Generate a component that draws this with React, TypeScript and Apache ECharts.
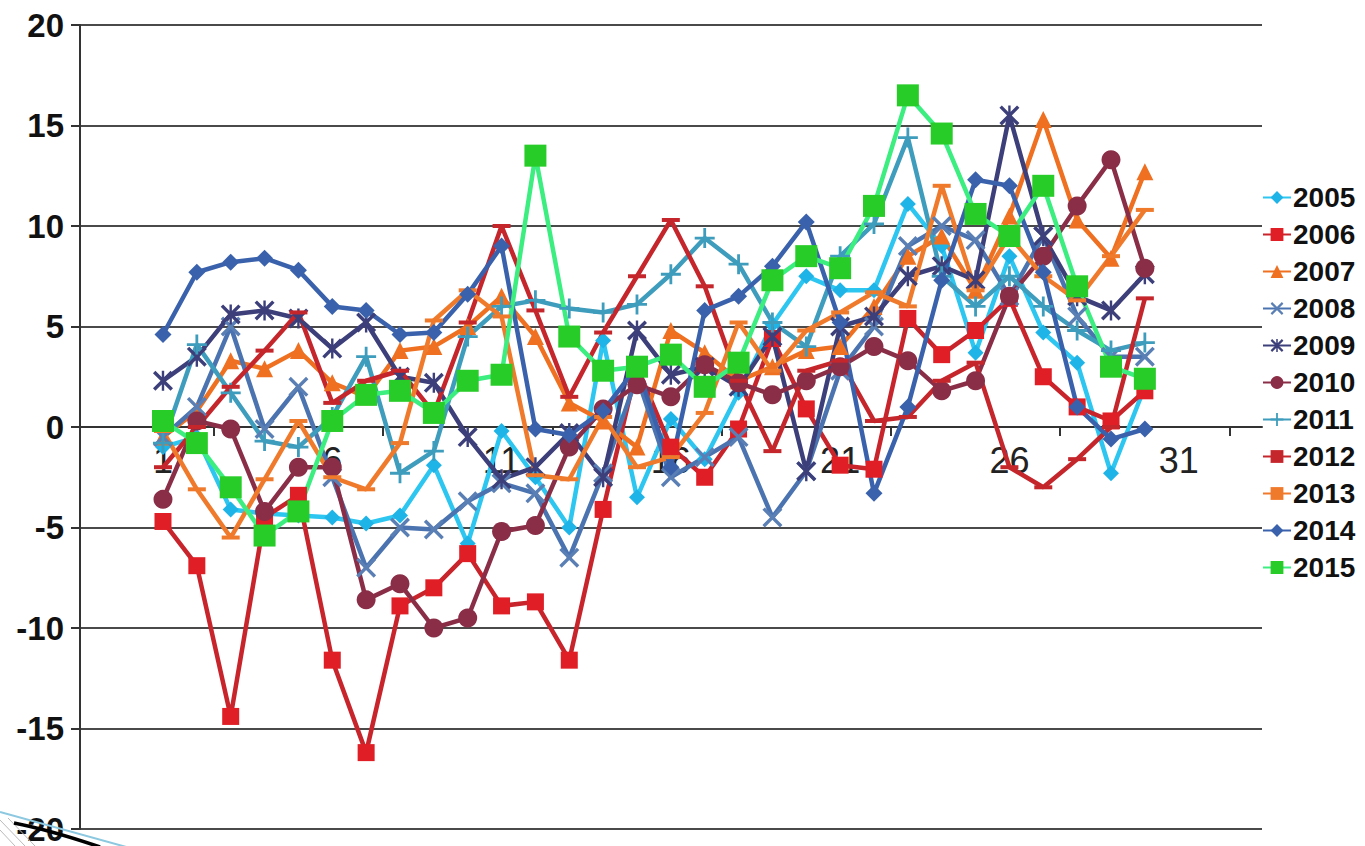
import React, { useEffect, useRef } from "react";
import * as echarts from "echarts";

const days: number[] = [1,2,3,4,5,6,7,8,9,10,11,12,13,14,15,16,17,18,19,20,21,22,23,24,25,26,27,28,29,30];
const xLabelValues: number[] = [1, 6, 11, 16, 21, 26, 31];
const xTickValues: number[] = [2.5, 7.5, 12.5, 17.5, 22.5, 27.5, 32.5];

const y2005: number[] = [-1.0, -0.5, -4.1, -4.3, -4.4, -4.5, -4.8, -4.4, -1.9, -5.8, -0.2, -2.5, -5.0, 4.3, -3.5, 0.4, -1.6, 1.7, 5.1, 7.5, 6.8, 6.8, 11.1, 9.0, 3.7, 8.5, 4.7, 3.2, -2.3, 2.0];
const y2006: number[] = [-4.7, -6.9, -14.4, -4.5, -3.4, -11.6, -16.2, -8.9, -8.0, -6.3, -8.9, -8.7, -11.6, -4.1, 3.0, -1.0, -2.5, -0.1, 4.4, 0.9, -1.9, -2.1, 5.4, 3.6, 4.8, 6.4, 2.5, 1.0, 0.3, 1.8];
const y2007: number[] = [-0.5, 0.8, 3.3, 2.9, 3.8, 2.2, 1.5, 3.8, 4.0, 5.0, 6.5, 4.5, 1.2, 0.3, -1.0, 4.8, 3.7, 2.3, 3.0, 3.8, 4.0, 6.0, 8.5, 9.5, 6.8, 10.5, 15.3, 10.3, 8.4, 12.7];
const y2008: number[] = [-0.5, 1.0, 5.0, -0.1, 2.0, -2.5, -7.0, -5.0, -5.1, -3.7, -2.8, -3.3, -6.5, -2.3, 2.5, -2.5, -1.5, -0.5, -4.5, -2.2, 2.8, 5.0, 9.0, 10.0, 9.3, 6.5, 9.5, 5.5, 3.5, 3.5];
const y2009: number[] = [2.3, 3.5, 5.6, 5.8, 5.4, 3.9, 5.2, 2.5, 2.2, -0.5, -2.6, -2.0, -0.3, -2.5, 4.8, 2.6, 3.0, 2.0, 4.5, -2.2, 5.0, 5.5, 7.5, 8.0, 7.3, 15.5, 9.5, 6.5, 5.8, 7.6];
const y2010: number[] = [-3.6, 0.3, -0.1, -4.2, -2.0, -2.0, -8.6, -7.8, -10.0, -9.5, -5.2, -4.9, -1.0, 0.9, 2.1, 1.5, 3.1, 2.2, 1.6, 2.3, 3.0, 4.0, 3.3, 1.8, 2.3, 6.5, 8.5, 11.0, 13.3, 7.9];
const y2011: number[] = [-0.8, 4.1, 1.7, -0.7, -1.0, 0.5, 3.5, -2.3, -1.2, 4.5, 6.0, 6.3, 5.9, 5.7, 6.1, 7.6, 9.4, 8.1, 5.2, 4.0, 8.5, 10.1, 14.4, 7.5, 6.0, 7.5, 6.0, 4.8, 3.8, 4.2];
const y2012: number[] = [-2.0, 0.0, 2.0, 3.8, 5.7, 1.2, 2.3, 2.8, 0.7, 5.2, 10.0, 5.8, 1.5, 4.7, 7.5, 10.3, 7.0, 2.3, -1.2, 2.8, 3.3, 0.3, 0.5, 2.3, 3.2, -2.0, -3.0, -1.6, 0.0, 6.4];
const y2013: number[] = [-0.2, -3.1, -5.5, -2.6, 0.3, -2.5, -3.1, -0.8, 5.3, 6.8, 5.5, -2.4, -2.6, 0.5, -2.0, -1.5, 0.7, 5.2, 2.8, 4.8, 5.7, 6.7, 6.0, 12.0, 6.8, 9.5, 7.5, 6.3, 8.5, 10.8];
const y2014: number[] = [4.6, 7.7, 8.2, 8.4, 7.8, 6.0, 5.8, 4.6, 4.7, 6.6, 9.0, -0.1, -0.4, 0.8, 3.0, -2.0, 5.8, 6.5, 8.0, 10.2, 5.2, -3.3, 1.0, 7.3, 12.3, 12.0, 7.7, 1.0, -0.6, -0.1];
const y2015: number[] = [0.3, -0.8, -3.0, -5.4, -4.2, 0.3, 1.6, 1.8, 0.7, 2.3, 2.6, 13.5, 4.5, 2.8, 3.0, 3.6, 2.0, 3.2, 7.3, 8.5, 7.9, 11.0, 16.5, 14.6, 10.6, 9.5, 12.0, 7.0, 3.0, 2.4];

const X_MARK = "path://M0,1.2L1.2,0L10,8.8L8.8,10ZM8.8,0L10,1.2L1.2,10L0,8.8Z";
const STAR_MARK = "path://M0,1.2L1.2,0L10,8.8L8.8,10ZM8.8,0L10,1.2L1.2,10L0,8.8ZM4.4,0L5.6,0L5.6,10L4.4,10Z";
const PLUS_MARK = "path://M4.3,0L5.7,0L5.7,10L4.3,10ZM0,4.3L10,4.3L10,5.7L0,5.7Z";
const DASH_MARK = "path://M0,0L10,0L10,2L0,2Z";

type S = { name: string; data: number[]; color: string; lineColor: string; symbol: string; size: number | number[] };

const seriesDefs: S[] = [
  { name: "2005", data: y2005, color: "#1EB4E8", lineColor: "#2CC6F0", symbol: "diamond", size: 16 },
  { name: "2006", data: y2006, color: "#E01E26", lineColor: "#C8242C", symbol: "rect", size: 17 },
  { name: "2007", data: y2007, color: "#EE7020", lineColor: "#EE7020", symbol: "triangle", size: 17 },
  { name: "2008", data: y2008, color: "#5A7FB5", lineColor: "#4A73B0", symbol: X_MARK, size: 20 },
  { name: "2009", data: y2009, color: "#3C3F7A", lineColor: "#3C3F7A", symbol: STAR_MARK, size: 20 },
  { name: "2010", data: y2010, color: "#8A2E48", lineColor: "#8A2E48", symbol: "circle", size: 19 },
  { name: "2011", data: y2011, color: "#3E9CBC", lineColor: "#3E9CBC", symbol: PLUS_MARK, size: 20 },
  { name: "2012", data: y2012, color: "#C4262C", lineColor: "#C4262C", symbol: DASH_MARK, size: [18, 4] },
  { name: "2013", data: y2013, color: "#F07A2C", lineColor: "#F07A2C", symbol: DASH_MARK, size: [18, 4] },
  { name: "2014", data: y2014, color: "#3A62AC", lineColor: "#3A62AC", symbol: "diamond", size: 17 },
  { name: "2015", data: y2015, color: "#28CC28", lineColor: "#3CEE80", symbol: "rect", size: 22 },
];

const FONT = "Liberation Sans, Arial, sans-serif";

export default function App() {
  const ref = useRef<HTMLDivElement>(null);
  useEffect(() => {
    if (!ref.current) return;
    const chart = echarts.init(ref.current, null, { renderer: "svg" });
    const option: any = {
      animation: false,
      backgroundColor: "#ffffff",
      textStyle: { fontFamily: FONT },
      grid: { left: 80, right: 103, top: 25, bottom: 17, containLabel: false, outerBoundsMode: "none" },
      legend: {
        orient: "vertical",
        left: 1257,
        top: 178,
        itemWidth: 28,
        itemHeight: 16,
        itemGap: 8,
        textStyle: { fontSize: 28, fontWeight: "bold", color: "#111", fontFamily: FONT, lineHeight: 29, padding: [0, 0, 0, -3] },
        data: seriesDefs.map((s) => s.name),
      },
      xAxis: {
        type: "value",
        min: -1.451,
        max: 33.46,
        offset: -402,
        axisLine: { show: true, onZero: true, lineStyle: { color: "#333", width: 2 } },
        splitLine: { show: false },
        axisTick: { show: true, customValues: xTickValues, length: 9, lineStyle: { color: "#333", width: 2 } },
        axisLabel: { customValues: xLabelValues, fontSize: 36, color: "#222", margin: 15, fontFamily: FONT },
      },
      yAxis: {
        type: "value",
        min: -20,
        max: 20,
        interval: 5,
        axisLine: { show: true, onZero: false, lineStyle: { color: "#333", width: 2 } },
        axisTick: { show: true, length: 9, lineStyle: { color: "#333", width: 2 } },
        splitLine: { show: true, lineStyle: { color: "#4a4a4a", width: 2 } },
        axisLabel: { fontSize: 33, fontWeight: "bold", color: "#111", margin: 16, fontFamily: FONT },
      },
      series: seriesDefs.map((s) => ({
        name: s.name,
        type: "line",
        data: s.data.map((v, i) => [days[i], v]),
        symbol: s.symbol,
        symbolSize: s.size,
        symbolKeepAspect: false,
        lineStyle: { color: s.lineColor, width: 4.5 },
        itemStyle: { color: s.color, borderWidth: 0 },
        emphasis: { disabled: true },
      })),
      graphic: [
        { type: "line", z: 100, shape: { x1: 0, y1: 812, x2: 130, y2: 848 }, style: { stroke: "#8CC8E0", lineWidth: 2 } },
        { type: "line", z: 100, shape: { x1: 0, y1: 820, x2: 25, y2: 846 }, style: { stroke: "#bbbbbb", lineWidth: 1 } },
        { type: "line", z: 100, shape: { x1: 8, y1: 818, x2: 35, y2: 846 }, style: { stroke: "#bbbbbb", lineWidth: 1 } },
        { type: "line", z: 100, shape: { x1: 0, y1: 830, x2: 15, y2: 846 }, style: { stroke: "#bbbbbb", lineWidth: 1 } },
        { type: "bezierCurve", z: 101, shape: { x1: 14, y1: 823, cpx1: 50, cpy1: 830, x2: 100, y2: 847 }, style: { stroke: "#000", lineWidth: 3.5, fill: null } },
      ],
    };
    chart.setOption(option);
    return () => chart.dispose();
  }, []);
  return <div ref={ref} style={{ position: "fixed", left: 0, top: 0, width: 1365, height: 846 }} />;
}
